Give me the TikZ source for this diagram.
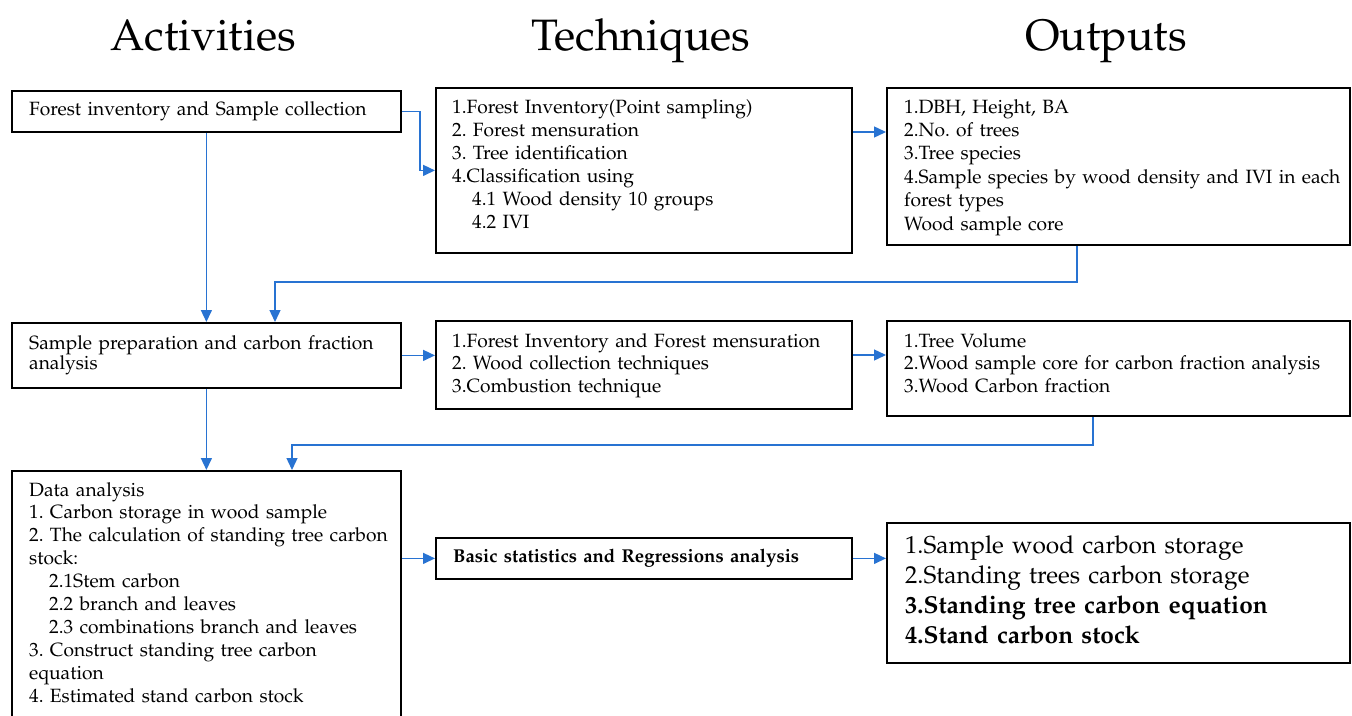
\documentclass[tikz,border=0pt]{standalone}
\usepackage[T1]{fontenc}
\usepackage{mathpazo}
\usetikzlibrary{arrows.meta,calc}
\definecolor{arrowblue}{RGB}{40,115,210}
\newcommand{\mybody}{\fontsize{19.2}{23}\selectfont}
\tikzset{
  box/.style={draw=black, line width=1.8pt, rectangle, inner sep=0pt, anchor=north west},
  txt/.style={anchor=base west, inner sep=0pt, align=left, text width=#1},
  arr/.style={draw=arrowblue, line width=1.4pt, -{Triangle[length=12pt,width=11pt]}},
  hdr/.style={anchor=base, inner sep=0pt, font=\fontsize{44}{50}\selectfont},
}
\frenchspacing
\begin{document}
\frenchspacing
\begin{tikzpicture}[x=1pt,y=-1pt]
\useasboundingbox (0,0) rectangle (1352,715);
\fill[white] (0,0) rectangle (1352,715);
% headers
\node[hdr] (h1) at (203,50) {Activities};
\node[hdr] (h2) at (641,50) {Techniques};
\node[hdr] (h3) at (1106,50) {Outputs};
% boxes
\node[box, minimum width=389pt, minimum height=41pt] (a1) at (11,90) {};
\node[box, minimum width=416pt, minimum height=165pt] (t1) at (435,87) {};
\node[box, minimum width=463pt, minimum height=157pt] (o1) at (886,87) {};
\node[box, minimum width=389pt, minimum height=65pt] (a2) at (11,322) {};
\node[box, minimum width=416pt, minimum height=88pt] (t2) at (435,320) {};
\node[box, minimum width=463pt, minimum height=95pt] (o2) at (886,320) {};
\node[box, minimum width=389pt, minimum height=255pt] (a3) at (11,470) {};
\node[box, minimum width=416pt, minimum height=41pt] (t3) at (435,537) {};
\node[box, minimum width=463pt, minimum height=140pt] (o3) at (886,522) {};
% texts
\node[txt=600pt, font=\mybody] (a1t) at (29,115) {Forest inventory and Sample collection};
\node[txt=600pt, font=\mybody] (t1t) at (452,113) {1.Forest Inventory(Point sampling)\\2. Forest mensuration\\3. Tree identification\\4.Classification using\\\hspace*{20pt}4.1 Wood density 10 groups\\\hspace*{20pt}4.2 IVI};
\node[txt=600pt, font=\fontsize{19.2}{23.4}\selectfont] (o1t) at (904,113) {1.DBH, Height, BA\\2.No. of trees\\3.Tree species\\4.Sample species by wood density and IVI in each\\forest types\\Wood sample core};
\node[txt=600pt, font=\fontsize{19.2}{20}\selectfont] (a2t) at (29,349) {Sample preparation and carbon fraction\\analysis};
\node[txt=600pt, font=\fontsize{19.2}{22.7}\selectfont] (t2t) at (452,347) {1.Forest Inventory and Forest mensuration\\2. Wood collection techniques\\3.Combustion technique};
\node[txt=600pt, font=\fontsize{19.2}{22.7}\selectfont] (o2t) at (904,347) {1.Tree Volume\\2.Wood sample core for carbon fraction analysis\\3.Wood Carbon fraction};
\node[txt=600pt, font=\fontsize{19.2}{22.9}\selectfont] (a3t) at (29,496) {Data analysis\\1. Carbon storage in wood sample\\2. The calculation of standing tree carbon\\stock:\\\hspace*{20pt}2.1Stem carbon\\\hspace*{20pt}2.2 branch and leaves\\\hspace*{20pt}2.3 combinations branch and leaves\\3. Construct standing tree carbon\\equation\\4. Estimated stand carbon stock};
\node[txt=600pt, font=\fontsize{18.6}{22}\selectfont\bfseries] (t3t) at (453,562) {Basic statistics and Regressions analysis};
\node[txt=600pt, font=\fontsize{24.5}{30}\selectfont] (o3t) at (905,553) {1.Sample wood carbon storage\\2.Standing trees carbon storage\\\textbf{3.Standing tree carbon equation}\\\textbf{4.Stand carbon stock}};
% connectors
\draw[arr] (a1.east) -- ++(18,0) |- (t1.west);
\draw[arr] ([yshift=-45pt]t1.north east) -- ([yshift=-45pt]o1.north west);
\draw[arr] (a1.south) -- (a2.north);
\draw[arr] ([xshift=191pt]o1.south west) -- ++(0,36) -| ([xshift=264pt]a2.north west);
\draw[arr] (a2.east) -- (a2.east -| t2.west);
\draw[arr] ([yshift=-35pt]t2.north east) -- ([yshift=-35pt]o2.north west);
\draw[arr] (a2.south) -- (a3.north);
\draw[arr] ([xshift=207pt]o2.south west) -- ++(0,28) -| ([xshift=281pt]a3.north west);
\draw[arr] (t3.west -| a3.east) -- (t3.west);
\draw[arr] (t3.east) -- (t3.east -| o3.west);
\end{tikzpicture}
\end{document}
